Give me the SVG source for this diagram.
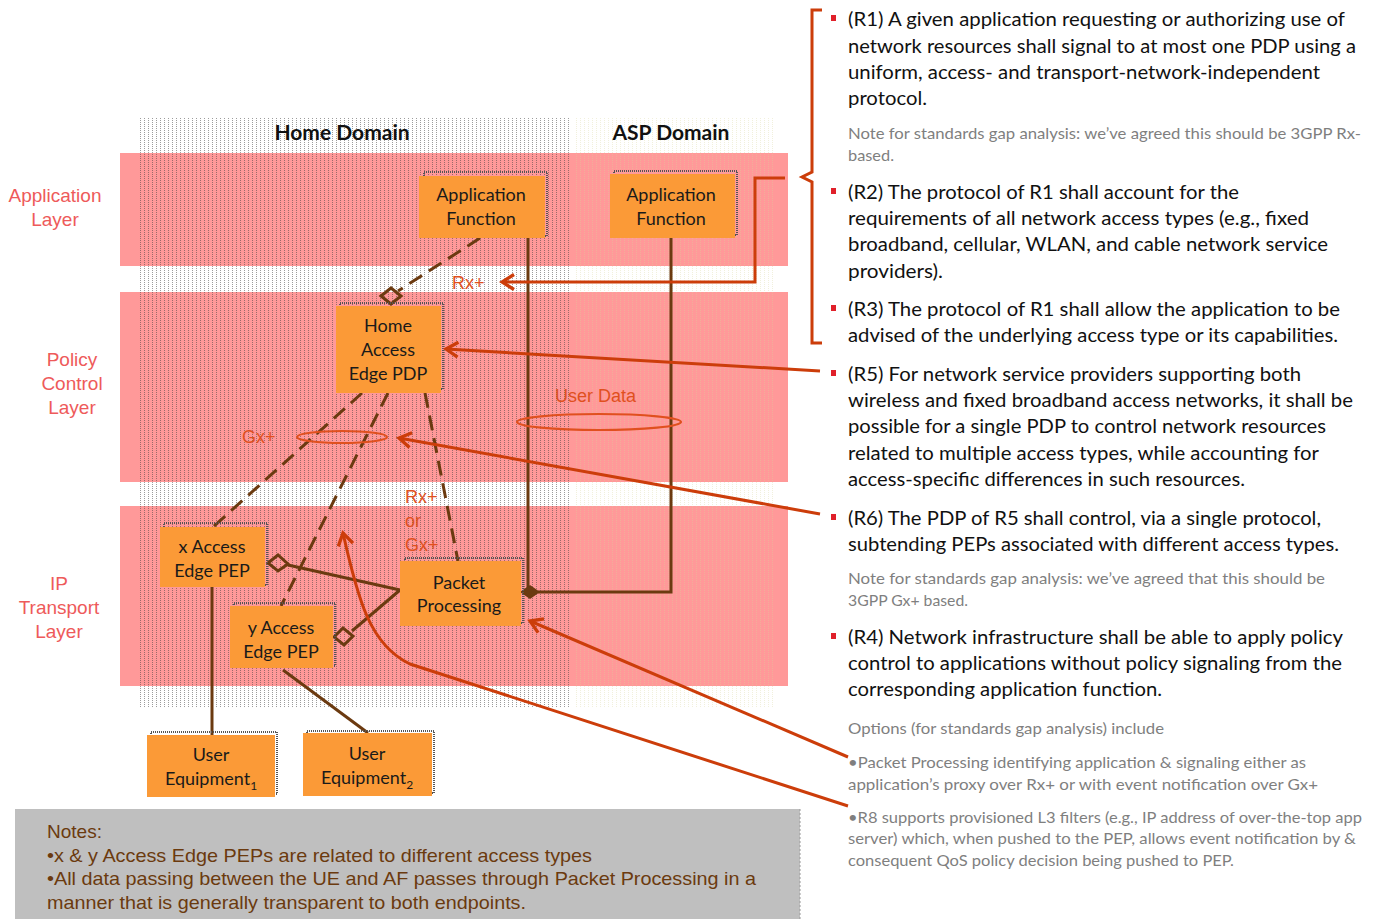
<svg xmlns="http://www.w3.org/2000/svg" width="1379" height="919" viewBox="0 0 1379 919">
  <defs>
    <style>
      .band { fill: #ff9999; }
      .layer { font-family: "Liberation Sans", Arial, sans-serif; font-size: 19px; fill: #ee5a5a; text-anchor: middle; }
      .domain { font-family: Lato, "Liberation Sans", sans-serif; font-size: 21px; font-weight: bold; fill: #111; text-anchor: middle; }
      .box { fill: #fb9a37; }
      .shadow { fill: none; stroke: #555; stroke-width: 2; stroke-dasharray: 1 1; }
      .boxtxt { font-family: Lato, "Liberation Sans", sans-serif; font-size: 18px; fill: #1a1a1a; text-anchor: middle; }
      .iface { font-family: "Liberation Sans", Arial, sans-serif; font-size: 18px; fill: #e0501e; }
      .link { fill: none; stroke: #6b3a10; stroke-width: 3; }
      .dash { stroke-dasharray: 15 8; }
      .ring { fill: none; stroke: #e0501e; stroke-width: 2.2; }
      .call { fill: none; stroke: #cc3d0a; stroke-width: 3; }
      .req { font-family: Lato, "Liberation Sans", sans-serif; font-size: 19.5px; fill: #111; }
      .gray { font-family: Lato, "Liberation Sans", sans-serif; font-size: 15px; fill: #7f7f7f; }
      .bullet { fill: #e0202a; }
      .notes { font-family: "Liberation Sans", Arial, sans-serif; font-size: 19px; fill: #6b3a0e; }
    </style>
    <pattern id="dotsHome" width="4" height="2" patternUnits="userSpaceOnUse">
      <rect width="1" height="1" fill="#3a3a3a"/>
    </pattern>
    <pattern id="dotsAsp" width="4" height="2" patternUnits="userSpaceOnUse">
      <rect width="1" height="1" fill="#d6d49a"/>
    </pattern>
    <marker id="arrow" viewBox="0 0 12 12" refX="10" refY="6" markerWidth="6" markerHeight="6" orient="auto" markerUnits="strokeWidth">
      <path d="M2,1 L10,6 L2,11" fill="none" stroke="#cc3d0a" stroke-width="2.2"/>
    </marker>
  </defs>

  <rect width="1379" height="919" fill="#ffffff"/>

  <!-- layer bands -->
  <g id="bands">
    <rect class="band" x="120" y="153" width="668" height="113"/>
    <rect class="band" x="120" y="292" width="668" height="190"/>
    <rect class="band" x="120" y="506" width="668" height="180"/>
  </g>

  <!-- domain textures -->
  <g id="domains">
    <rect x="140" y="117" width="432" height="591" fill="url(#dotsHome)" opacity="0.5"/>
    <rect x="573" y="117" width="200" height="590" fill="url(#dotsAsp)" opacity="0.35"/>
    <text class="domain" x="342" y="140">Home Domain</text>
    <text class="domain" x="671" y="140">ASP Domain</text>
  </g>

  <!-- layer labels -->
  <g id="layer-labels">
    <text class="layer" x="55" y="202">Application</text>
    <text class="layer" x="55" y="226">Layer</text>
    <text class="layer" x="72" y="366">Policy</text>
    <text class="layer" x="72" y="390">Control</text>
    <text class="layer" x="72" y="414">Layer</text>
    <text class="layer" x="59" y="590">IP</text>
    <text class="layer" x="59" y="614">Transport</text>
    <text class="layer" x="59" y="638">Layer</text>
  </g>

  <!-- connectors -->
  <g id="connectors">
    <line class="link dash" x1="480" y1="238" x2="398" y2="291"/>
    <path class="link" d="M381,296 L391,288 L401,296 L391,304 Z"/>
    <line class="link" x1="528" y1="238" x2="528" y2="592"/>
    <path class="link" d="M538,592 H671 V238"/>
    <path d="M520,592 L530,585 L540,592 L530,599 Z" fill="#6b3a10"/>
    <line class="link dash" x1="362" y1="393" x2="213" y2="527"/>
    <line class="link dash" x1="388" y1="393" x2="281" y2="606"/>
    <line class="link dash" x1="425" y1="393" x2="458" y2="561"/>
    <line class="link" x1="288" y1="565" x2="400" y2="590"/>
    <path class="link" d="M268,563 L278,555 L288,564 L278,571 Z"/>
    <line class="link" x1="352" y1="631" x2="400" y2="590"/>
    <path class="link" d="M334,637 L343,628 L353,636 L344,645 Z"/>
    <line class="link" x1="212" y1="587" x2="212" y2="735"/>
    <line class="link" x1="283" y1="670" x2="368" y2="733"/>
  </g>

  <!-- interface labels -->
  <g id="interfaces">
    <text class="iface" x="452" y="289">Rx+</text>
    <text class="iface" x="242" y="443">Gx+</text>
    <ellipse class="ring" cx="342" cy="437" rx="45" ry="6"/>
    <text class="iface" x="555" y="402">User Data</text>
    <ellipse class="ring" cx="599" cy="422" rx="82" ry="8"/>
    <text class="iface" x="405" y="503">Rx+</text>
    <text class="iface" x="405" y="527">or</text>
    <text class="iface" x="405" y="551">Gx+</text>
  </g>

  <!-- nodes -->
  <g id="af-home">
    <rect class="shadow" x="424" y="172" width="123" height="64"/>
    <rect class="box" x="419" y="176" width="126" height="62"/>
    <text class="boxtxt" x="481" y="201">Application</text>
    <text class="boxtxt" x="481" y="225">Function</text>
  </g>
  <g id="af-asp">
    <rect class="shadow" x="614" y="171" width="123" height="64"/>
    <rect class="box" x="610" y="174" width="125" height="64"/>
    <text class="boxtxt" x="671" y="201">Application</text>
    <text class="boxtxt" x="671" y="225">Function</text>
  </g>
  <g id="pdp">
    <rect class="shadow" x="340" y="303" width="103" height="86"/>
    <rect class="box" x="336" y="306" width="105" height="87"/>
    <text class="boxtxt" x="388" y="332">Home</text>
    <text class="boxtxt" x="388" y="356">Access</text>
    <text class="boxtxt" x="388" y="380">Edge PDP</text>
  </g>
  <g id="pep-x">
    <rect class="shadow" x="164" y="523" width="103" height="62"/>
    <rect class="box" x="160" y="527" width="105" height="60"/>
    <text class="boxtxt" x="212" y="553">x Access</text>
    <text class="boxtxt" x="212" y="577">Edge PEP</text>
  </g>
  <g id="pep-y">
    <rect class="shadow" x="234" y="603" width="101" height="63"/>
    <rect class="box" x="230" y="606" width="103" height="62"/>
    <text class="boxtxt" x="281" y="634">y Access</text>
    <text class="boxtxt" x="281" y="658">Edge PEP</text>
  </g>
  <g id="packet-processing">
    <rect class="shadow" x="405" y="558" width="118" height="65"/>
    <rect class="box" x="400" y="561" width="121" height="65"/>
    <text class="boxtxt" x="459" y="589">Packet</text>
    <text class="boxtxt" x="459" y="612">Processing</text>
  </g>
  <g id="ue1">
    <rect class="shadow" x="151" y="732" width="126" height="62"/>
    <rect class="box" x="147" y="735" width="128" height="62"/>
    <text class="boxtxt" x="211" y="761">User</text>
    <text class="boxtxt" x="211" y="785">Equipment<tspan font-size="12" dy="5">1</tspan></text>
  </g>
  <g id="ue2">
    <rect class="shadow" x="307" y="731" width="127" height="62"/>
    <rect class="box" x="303" y="733" width="129" height="63"/>
    <text class="boxtxt" x="367" y="760">User</text>
    <text class="boxtxt" x="367" y="784">Equipment<tspan font-size="12" dy="5">2</tspan></text>
  </g>

  <!-- callouts from the requirements -->
  <g id="callouts">
    <path class="call" d="M822,10 H812 V172 L802,177 L812,182 V343 H822"/>
    <path class="call" d="M785,178 H755 V282 H502" marker-end="url(#arrow)"/>
    <line class="call" x1="820" y1="371" x2="446" y2="349" marker-end="url(#arrow)"/>
    <line class="call" x1="820" y1="514" x2="399" y2="438" marker-end="url(#arrow)"/>
    <line class="call" x1="848" y1="757" x2="530" y2="621" marker-end="url(#arrow)"/>
    <path class="call" d="M848,806 L410,664 C370,645 358,600 343,533" marker-end="url(#arrow)"/>
  </g>

  <!-- requirements text -->
  <g id="requirements">
    <rect class="bullet" x="831" y="15" width="5" height="6"/>
    <text class="req" x="848" y="26" textLength="497" lengthAdjust="spacingAndGlyphs">(R1) A given application requesting or authorizing use of</text>
    <text class="req" x="848" y="53" textLength="508" lengthAdjust="spacingAndGlyphs">network resources shall signal to at most one PDP using a</text>
    <text class="req" x="848" y="79" textLength="472" lengthAdjust="spacingAndGlyphs">uniform, access- and transport-network-independent</text>
    <text class="req" x="848" y="105" textLength="79" lengthAdjust="spacingAndGlyphs">protocol.</text>
    <text class="gray" x="848" y="139" textLength="513" lengthAdjust="spacingAndGlyphs">Note for standards gap analysis:  we’ve agreed this should be 3GPP Rx-</text>
    <text class="gray" x="848" y="161" textLength="46" lengthAdjust="spacingAndGlyphs">based.</text>

    <rect class="bullet" x="831" y="188" width="5" height="6"/>
    <text class="req" x="848" y="199" textLength="391" lengthAdjust="spacingAndGlyphs">(R2) The protocol of R1 shall account for the</text>
    <text class="req" x="848" y="225" textLength="461" lengthAdjust="spacingAndGlyphs">requirements of all network access types (e.g., fixed</text>
    <text class="req" x="848" y="251" textLength="480" lengthAdjust="spacingAndGlyphs">broadband, cellular, WLAN, and cable network service</text>
    <text class="req" x="848" y="278" textLength="95" lengthAdjust="spacingAndGlyphs">providers).</text>

    <rect class="bullet" x="831" y="305" width="5" height="6"/>
    <text class="req" x="848" y="316" textLength="492" lengthAdjust="spacingAndGlyphs">(R3) The protocol of R1 shall allow the application to be</text>
    <text class="req" x="848" y="342" textLength="490" lengthAdjust="spacingAndGlyphs">advised of the underlying access type or its capabilities.</text>

    <rect class="bullet" x="831" y="370" width="5" height="6"/>
    <text class="req" x="848" y="381" textLength="453" lengthAdjust="spacingAndGlyphs">(R5) For network service providers supporting both</text>
    <text class="req" x="848" y="407" textLength="505" lengthAdjust="spacingAndGlyphs">wireless and fixed broadband access networks, it shall be</text>
    <text class="req" x="848" y="433" textLength="478" lengthAdjust="spacingAndGlyphs">possible for a single PDP to control network resources</text>
    <text class="req" x="848" y="460" textLength="471" lengthAdjust="spacingAndGlyphs">related to multiple access types, while accounting for</text>
    <text class="req" x="848" y="486" textLength="397" lengthAdjust="spacingAndGlyphs">access-specific differences in such resources.</text>

    <rect class="bullet" x="831" y="514" width="5" height="6"/>
    <text class="req" x="848" y="525" textLength="473" lengthAdjust="spacingAndGlyphs">(R6) The PDP of R5 shall control, via a single protocol,</text>
    <text class="req" x="848" y="551" textLength="491" lengthAdjust="spacingAndGlyphs">subtending PEPs associated with different access types.</text>
    <text class="gray" x="848" y="584" textLength="477" lengthAdjust="spacingAndGlyphs">Note for standards gap analysis:  we’ve agreed that this should be</text>
    <text class="gray" x="848" y="606" textLength="120" lengthAdjust="spacingAndGlyphs">3GPP Gx+ based.</text>

    <rect class="bullet" x="831" y="633" width="5" height="6"/>
    <text class="req" x="848" y="644" textLength="495" lengthAdjust="spacingAndGlyphs">(R4) Network infrastructure shall be able to apply policy</text>
    <text class="req" x="848" y="670" textLength="494" lengthAdjust="spacingAndGlyphs">control to applications without policy signaling from the</text>
    <text class="req" x="848" y="696" textLength="314" lengthAdjust="spacingAndGlyphs">corresponding application function.</text>

    <text class="gray" x="848" y="734" textLength="316" lengthAdjust="spacingAndGlyphs">Options (for standards gap analysis) include</text>
    <text class="gray" x="848" y="768" textLength="458" lengthAdjust="spacingAndGlyphs">•Packet Processing  identifying application &amp; signaling either as</text>
    <text class="gray" x="848" y="790" textLength="470" lengthAdjust="spacingAndGlyphs">application’s proxy  over  Rx+ or with event notification over Gx+</text>
    <text class="gray" x="848" y="823" textLength="514" lengthAdjust="spacingAndGlyphs">•R8 supports provisioned L3 filters (e.g., IP address of over-the-top app</text>
    <text class="gray" x="848" y="844" textLength="508" lengthAdjust="spacingAndGlyphs">server) which, when pushed to the PEP, allows event notification by &amp;</text>
    <text class="gray" x="848" y="866" textLength="386" lengthAdjust="spacingAndGlyphs">consequent QoS policy decision being pushed to PEP.</text>
  </g>

  <!-- notes panel -->
  <g id="notes">
    <rect x="15" y="809" width="785" height="110" fill="#bfbfbf"/>
    <line x1="800" y1="809" x2="800" y2="919" stroke="#9a9a9a" stroke-width="1" stroke-dasharray="2 2"/>
    <text class="notes" x="47" y="838">Notes:</text>
    <text class="notes" x="47" y="862" textLength="545" lengthAdjust="spacingAndGlyphs">•x &amp; y Access Edge PEPs are related to different access types</text>
    <text class="notes" x="47" y="885" textLength="709" lengthAdjust="spacingAndGlyphs">•All data passing between the UE and AF passes through Packet Processing in a</text>
    <text class="notes" x="47" y="909" textLength="479" lengthAdjust="spacingAndGlyphs">manner that is generally transparent to both endpoints.</text>
  </g>
</svg>
